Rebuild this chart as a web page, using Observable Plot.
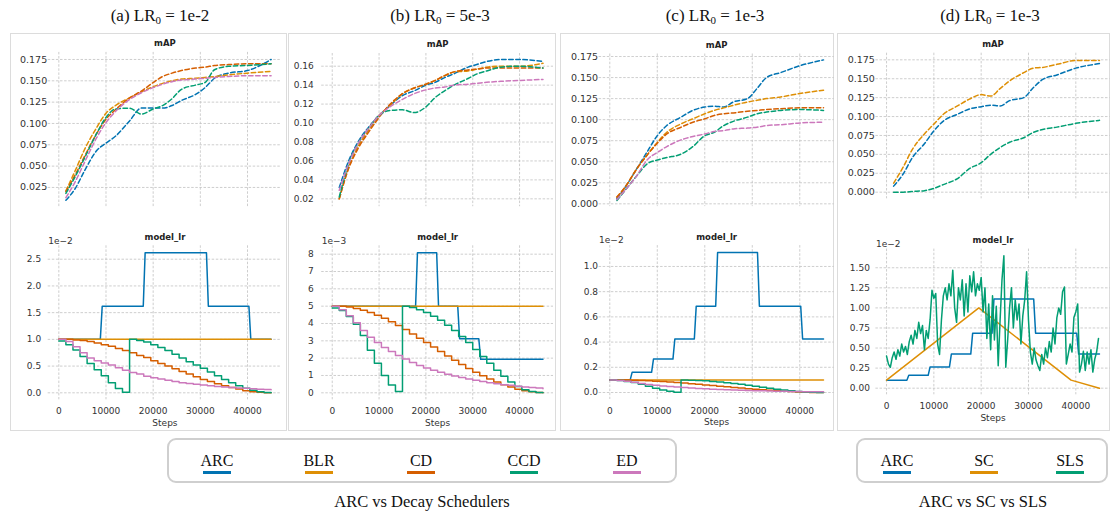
<!DOCTYPE html>
<html><head><meta charset="utf-8">
<script src="https://cdn.jsdelivr.net/npm/d3@7"></script>
<script src="https://cdn.jsdelivr.net/npm/@observablehq/plot@0.6"></script>
<style>
body{margin:0;background:#fff;}
#root{position:relative;width:1117px;height:516px;overflow:hidden;font-family:"Liberation Serif","Times New Roman",serif;color:#111;}
.box{position:absolute;box-sizing:border-box;border:1px solid #dcdcdc;}
.title{position:absolute;font-size:17px;line-height:17px;transform:translateX(-50%);white-space:nowrap;}
.title sub{font-size:11px;vertical-align:-3px;line-height:0;}
.legend{position:absolute;box-sizing:border-box;border:2px solid #cfcfcf;border-radius:9px;}
.item{position:absolute;transform:translateX(-50%);font-size:16px;line-height:16px;white-space:nowrap;}
.sw{position:absolute;height:3px;width:28px;transform:translateX(-50%);}
.cap{position:absolute;font-size:16.5px;line-height:16.5px;transform:translateX(-50%);white-space:nowrap;}
</style>
</head><body><div id="root"></div>
<script>
// ---------- data ----------
const xTicks = [0, 10000, 20000, 30000, 40000];
const stepsMAP = [1500, 3500, 5500, 8000, 10000, 12000, 15000, 17500, 20000, 22000, 24000, 26000, 29000, 31000, 33000, 36000, 40000, 45000];
const stepsLR = [0,1500,3000,4500,6000,7500,9000,10500,12000,13500,15000,16500,18000,19500,21000,22500,24000,25500,27000,28500,30000,31500,33000,34500,36000,37500,39000,40500,42000,43500,45000];
const blrSteps = [0, 45000];

// (a) LR0 = 1e-2
const mapA_ARC = [0.010,0.024,0.045,0.068,0.077,0.085,0.103,0.118,0.118,0.118,0.121,0.127,0.134,0.142,0.153,0.159,0.162,0.175];
const mapA_BLR = [0.021,0.045,0.070,0.095,0.112,0.121,0.130,0.137,0.143,0.147,0.150,0.152,0.153,0.154,0.155,0.157,0.159,0.161];
const mapA_CD  = [0.020,0.040,0.062,0.088,0.105,0.116,0.130,0.138,0.148,0.155,0.159,0.162,0.165,0.166,0.168,0.169,0.170,0.170];
const mapA_CCD = [0.018,0.038,0.060,0.088,0.107,0.117,0.118,0.111,0.117,0.121,0.129,0.140,0.145,0.148,0.163,0.167,0.168,0.170];
const mapA_ED  = [0.013,0.032,0.055,0.083,0.101,0.114,0.128,0.136,0.142,0.146,0.149,0.151,0.152,0.153,0.154,0.155,0.156,0.156];
const arcStepsA = [0,8800,9200,17900,18300,31300,31700,40300,40700,45000];
const lrA_ARC = [1.0,1.0,1.62,1.62,2.62,2.62,1.62,1.62,1.0,1.0];
const lrA_BLR = [1.0,1.0];
const lrA_CD  = [1.0,1.0,0.99,0.98,0.96,0.93,0.9,0.87,0.83,0.79,0.75,0.7,0.66,0.6,0.55,0.5,0.45,0.4,0.35,0.3,0.25,0.21,0.17,0.13,0.1,0.07,0.04,0.02,0.01,0.0,0.0];
const lrA_CCD = [0.97,0.9,0.8,0.68,0.55,0.43,0.32,0.19,0.08,0.01,1.0,0.98,0.95,0.9,0.85,0.79,0.72,0.65,0.58,0.52,0.46,0.39,0.32,0.25,0.19,0.13,0.085,0.05,0.02,0.005,0.0];
const lrA_ED  = [1.0,0.96,0.86,0.75,0.65,0.6,0.56,0.52,0.47,0.42,0.38,0.35,0.31,0.28,0.26,0.235,0.21,0.19,0.175,0.16,0.145,0.13,0.12,0.11,0.1,0.09,0.083,0.075,0.068,0.062,0.056];

// (b) LR0 = 5e-3
const mapB_ARC = [0.032,0.060,0.080,0.097,0.108,0.117,0.129,0.134,0.140,0.143,0.148,0.152,0.159,0.162,0.165,0.167,0.167,0.165];
const mapB_BLR = [0.020,0.053,0.075,0.094,0.108,0.117,0.131,0.137,0.141,0.145,0.150,0.154,0.155,0.157,0.159,0.160,0.160,0.163];
const mapB_CD  = [0.020,0.052,0.073,0.092,0.106,0.118,0.131,0.137,0.141,0.145,0.150,0.154,0.156,0.157,0.158,0.158,0.158,0.158];
const mapB_CCD = [0.022,0.057,0.078,0.096,0.108,0.113,0.114,0.111,0.117,0.127,0.134,0.140,0.147,0.152,0.155,0.159,0.160,0.158];
const mapB_ED  = [0.029,0.057,0.078,0.096,0.108,0.116,0.125,0.131,0.135,0.137,0.138,0.140,0.141,0.142,0.143,0.144,0.145,0.146];
const arcStepsB = [0,17800,18200,22300,22700,26800,27200,31300,31700,45000];
const lrB_ARC = [5,5,8.08,8.08,5,5,3.12,3.12,1.93,1.93];
const lrB_BLR = [5,5];
const lrB_CD  = [5.0,5.0,4.95,4.87,4.76,4.63,4.48,4.3,4.1,3.88,3.65,3.4,3.15,2.9,2.64,2.38,2.12,1.88,1.64,1.4,1.18,0.98,0.79,0.62,0.46,0.33,0.21,0.12,0.06,0.02,0.0];
const lrB_CCD = [4.9,4.75,4.4,3.95,3.3,2.45,1.7,1.0,0.45,0.08,5.0,4.92,4.8,4.63,4.42,4.18,3.9,3.6,3.25,2.9,2.5,2.1,1.7,1.3,0.95,0.62,0.36,0.18,0.08,0.02,0.0];
const lrB_ED  = [5.0,4.8,4.45,4.05,3.6,3.2,2.9,2.62,2.38,2.15,1.95,1.75,1.58,1.43,1.3,1.18,1.07,0.97,0.88,0.8,0.72,0.65,0.58,0.52,0.47,0.43,0.38,0.34,0.3,0.27,0.24];

// (c) LR0 = 1e-3
const mapC_ARC = [0.006,0.022,0.040,0.063,0.081,0.093,0.103,0.111,0.115,0.116,0.115,0.121,0.125,0.137,0.150,0.156,0.164,0.171];
const mapC_BLR = [0.008,0.022,0.040,0.059,0.073,0.085,0.095,0.101,0.107,0.111,0.114,0.117,0.121,0.123,0.125,0.127,0.131,0.135];
const mapC_CD  = [0.008,0.022,0.040,0.059,0.072,0.083,0.091,0.097,0.101,0.105,0.107,0.108,0.110,0.111,0.112,0.113,0.114,0.114];
const mapC_CCD = [0.004,0.018,0.032,0.048,0.052,0.055,0.059,0.068,0.081,0.085,0.093,0.098,0.103,0.107,0.109,0.111,0.112,0.111];
const mapC_ED  = [0.005,0.018,0.032,0.053,0.061,0.068,0.076,0.080,0.083,0.086,0.087,0.089,0.090,0.091,0.093,0.094,0.096,0.097];
const arcStepsC = [0,4300,4700,8800,9200,13300,13700,17800,18200,22300,22700,31100,31500,40200,40600,45000];
const lrC_ARC = [0.1,0.1,0.16,0.16,0.265,0.265,0.425,0.425,0.685,0.685,1.11,1.11,0.685,0.685,0.425,0.425];
const lrC_BLR = [0.1,0.1];
const lrC_CD  = [0.1,0.1,0.099,0.098,0.096,0.093,0.09,0.087,0.083,0.079,0.075,0.07,0.066,0.06,0.055,0.05,0.045,0.04,0.035,0.03,0.025,0.021,0.017,0.013,0.01,0.007,0.004,0.002,0.001,0.0,0.0];
const lrC_CCD = [0.1,0.095,0.088,0.079,0.066,0.05,0.034,0.02,0.009,0.002,0.1,0.098,0.096,0.093,0.088,0.084,0.078,0.072,0.065,0.058,0.05,0.042,0.034,0.026,0.019,0.013,0.007,0.004,0.002,0.0005,0.0];
const lrC_ED  = [0.1,0.096,0.089,0.081,0.072,0.064,0.058,0.052,0.048,0.043,0.039,0.035,0.032,0.029,0.026,0.024,0.021,0.019,0.018,0.016,0.014,0.013,0.012,0.01,0.0095,0.0086,0.0076,0.0068,0.006,0.0054,0.0048];

// (d) LR0 = 1e-3, ARC vs SC vs SLS
const mapD_ARC = [0.008,0.024,0.046,0.064,0.081,0.094,0.103,0.110,0.113,0.115,0.114,0.121,0.125,0.138,0.149,0.155,0.164,0.170];
const mapD_SC  = [0.012,0.033,0.057,0.077,0.090,0.103,0.114,0.123,0.129,0.127,0.137,0.147,0.158,0.164,0.165,0.169,0.174,0.174];
const mapD_SLS = [0.000,0.000,0.001,0.002,0.005,0.010,0.018,0.031,0.039,0.050,0.059,0.066,0.072,0.079,0.083,0.086,0.091,0.095];
const lrD_ARC = [0.1,0.1,0.16,0.16,0.265,0.265,0.425,0.425,0.685,0.685,1.11,1.11,0.685,0.685,0.425,0.425];
const scSteps = [0, 19500, 39000, 45000];
const lrD_SC = [0.1, 1.0, 0.1, 0.0];
const slsSteps = d3.range(0, 44801, 400);
const lrD_SLS = [0.40,0.30,0.26,0.38,0.45,0.36,0.48,0.40,0.55,0.45,0.52,0.42,0.58,0.66,0.55,0.72,0.62,0.82,0.68,0.78,
  0.48,0.72,0.62,0.85,1.22,1.12,1.18,0.55,0.42,0.85,1.15,1.25,1.10,1.30,1.15,1.47,1.00,0.82,1.25,1.10,
  1.35,0.90,1.30,0.95,1.40,1.20,1.45,1.15,1.30,1.22,1.38,0.95,1.25,0.62,1.05,0.48,1.15,0.60,1.02,0.28,
  0.85,1.35,1.65,0.26,0.60,1.00,1.25,0.75,1.10,0.85,1.05,0.55,0.90,1.10,1.45,
  0.85,0.45,0.30,0.50,0.35,0.28,0.22,0.42,0.30,0.50,0.38,0.58,0.45,0.75,0.55,0.88,1.00,0.92,1.20,1.26,
  0.30,0.42,0.55,0.45,0.88,0.95,1.05,0.20,0.30,0.46,0.22,0.45,0.30,0.48,0.20,0.36,0.45,0.62];

// tick labels
const mapTicksA = [0.025,0.05,0.075,0.1,0.125,0.15,0.175];
const mapTicksB = [0.02,0.04,0.06,0.08,0.10,0.12,0.14,0.16];
const mapTicksC = [0,0.025,0.05,0.075,0.1,0.125,0.15,0.175];
const lrTicksA = [0,0.5,1.0,1.5,2.0,2.5];
const lrTicksB = [0,1,2,3,4,5,6,7,8];
const lrTicksC = [0,0.2,0.4,0.6,0.8,1.0];
const lrTicksD = [0,0.25,0.5,0.75,1.0,1.25,1.5];

const C = {ARC:"#0173b2", BLR:"#de8f05", CD:"#d55e00", CCD:"#029e73", ED:"#cc78bc", SC:"#de8f05", SLS:"#029e73"};

// ---------- drawing ----------
const root = document.getElementById("root");
const grid = {stroke:"#c2c2c2", strokeOpacity:1, strokeWidth:0.8, strokeDasharray:"2.5,1.6"};

function subplot(cfg){
  const marks = [
    Plot.gridX(xTicks, grid),
    Plot.gridY(cfg.yTicks, grid),
    Plot.axisY(cfg.yTicks, {tickSize:0, tickPadding:cfg.yPad, tickFormat:d3.format(cfg.yFmt), color:"#333", label:null, fontSize:cfg.tickFont||9})
  ];
  if (cfg.showX) marks.push(Plot.axisX(xTicks, {tickSize:0, tickPadding:8, tickFormat:d3.format("d"), color:"#333", label:null, fontSize:9}));
  for (const s of cfg.lines) {
    marks.push(Plot.line(s.y, {x:s.x, y:s.y, stroke:s.color, strokeWidth:1.5, curve:s.curve, strokeDasharray:s.dash}));
  }
  marks.push(Plot.text([cfg.title], {frameAnchor:"top", dy:cfg.titleDy, text:d=>d, fontWeight:"bold", fontSize:8.5, lineAnchor:"middle", fill:"#222"}));
  if (cfg.offset) marks.push(Plot.text([cfg.offset], {frameAnchor:"top-left", textAnchor:"start", dy:-5, text:d=>d, fontSize:9, lineAnchor:"middle", fill:"#333"}));
  if (cfg.showX) marks.push(Plot.text(["Steps"], {frameAnchor:"bottom", dy:23, text:d=>d, fontSize:9, lineAnchor:"middle", fill:"#333"}));
  const svg = Plot.plot({
    width: cfg.width, height: cfg.height,
    marginLeft: cfg.fL - cfg.left, marginRight: cfg.left + cfg.width - cfg.fR,
    marginTop: cfg.fT - cfg.top, marginBottom: cfg.top + cfg.height - cfg.fB,
    x: {domain:[-2250, 47250], axis:null},
    y: {domain: cfg.yDomain, axis:null},
    style: {background:"transparent", fontFamily:"DejaVu Sans", fontSize:"9px", overflow:"visible"},
    marks
  });
  svg.style.position = "absolute";
  svg.style.left = cfg.left + "px";
  svg.style.top = cfg.top + "px";
  svg.style.maxWidth = "none";
  root.append(svg);
}

function el(cls, html, style){
  const d = document.createElement("div");
  d.className = cls; d.innerHTML = html || "";
  Object.assign(d.style, style);
  root.append(d); return d;
}

const dashed = "4.5,2.6";
const mono = "monotone-x";
const panels = [
  {box:[10,277], fL:47.7, fR:281.2, title:"(a) LR<sub>0</sub> = 1e-2", tx:160,
   map:{fT:51.9, fB:207.0, yDomain:[0.0015,0.1833], yTicks:mapTicksA, yFmt:".3f", yPad:1, tickFont:9.5,
        lines:[[mapA_ARC,C.ARC],[mapA_BLR,C.BLR],[mapA_CD,C.CD],[mapA_CCD,C.CCD],[mapA_ED,C.ED]]},
   lr:{fT:245.3, fB:399.3, yDomain:[-0.131,2.751], yTicks:lrTicksA, yFmt:".1f", yPad:7, offset:"1e\u22122",
       lines:[[arcStepsA,lrA_ARC,C.ARC,"linear"],[blrSteps,lrA_BLR,C.BLR,"linear"],[stepsLR,lrA_CD,C.CD,"step-after"],[stepsLR,lrA_CCD,C.CCD,"step-after"],[stepsLR,lrA_ED,C.ED,"step-after"]]}},
  {box:[288,268], fL:321.2, fR:553.0, title:"(b) LR<sub>0</sub> = 5e-3", tx:440,
   map:{fT:53.0, fB:206.2, yDomain:[0.0117,0.1734], yTicks:mapTicksB, yFmt:".2f", yPad:8,
        lines:[[mapB_ARC,C.ARC],[mapB_BLR,C.BLR],[mapB_CD,C.CD],[mapB_CCD,C.CCD],[mapB_ED,C.ED]]},
   lr:{fT:245.3, fB:399.3, yDomain:[-0.404,8.484], yTicks:lrTicksB, yFmt:"d", yPad:8, offset:"1e\u22123",
       lines:[[arcStepsB,lrB_ARC,C.ARC,"linear"],[blrSteps,lrB_BLR,C.BLR,"linear"],[stepsLR,lrB_CD,C.CD,"step-after"],[stepsLR,lrB_CCD,C.CCD,"step-after"],[stepsLR,lrB_ED,C.ED,"step-after"]]}},
  {box:[560,274], fL:598.6, fR:833.7, title:"(c) LR<sub>0</sub> = 1e-3", tx:715,
   map:{fT:53.5, fB:206.1, yDomain:[-0.0033,0.178], yTicks:mapTicksC, yFmt:".3f", yPad:1, tickFont:9.5,
        lines:[[mapC_ARC,C.ARC],[mapC_BLR,C.BLR],[mapC_CD,C.CD],[mapC_CCD,C.CCD],[mapC_ED,C.ED]]},
   lr:{fT:245.1, fB:399.0, yDomain:[-0.0555,1.1655], yTicks:lrTicksC, yFmt:".1f", yPad:1, offset:"1e\u22122",
       lines:[[arcStepsC,lrC_ARC,C.ARC,"linear"],[blrSteps,lrC_BLR,C.BLR,"linear"],[stepsLR,lrC_CD,C.CD,"step-after"],[stepsLR,lrC_CCD,C.CCD,"step-after"],[stepsLR,lrC_ED,C.ED,"step-after"]]}},
  {box:[837,273], fL:875.4, fR:1109.6, title:"(d) LR<sub>0</sub> = 1e-3", tx:990,
   map:{fT:52.7, fB:198.3, yDomain:[-0.00875,0.18375], yTicks:mapTicksC, yFmt:".3f", yPad:1, tickFont:9.5,
        lines:[[mapD_ARC,C.ARC],[mapD_SC,C.SC],[mapD_SLS,C.SLS]]},
   lr:{fT:248.6, fB:394.3, yDomain:[-0.0825,1.7325], yTicks:lrTicksD, yFmt:".2f", yPad:6, offset:"1e\u22122",
       lines:[[arcStepsC,lrD_ARC,C.ARC,"linear"],[scSteps,lrD_SC,C.SC,"linear"],[slsSteps,lrD_SLS,C.SLS,"linear"]]}}
];

for (const p of panels){
  const [bl, bw] = p.box;
  el("box", "", {left:bl+"px", top:"33px", width:bw+"px", height:"398px"});
  el("title", p.title, {left:p.tx+"px", top:"7px"});
  subplot({left:bl, top:33, width:bw, height:190, fL:p.fL, fR:p.fR, fT:p.map.fT, fB:p.map.fB,
    yDomain:p.map.yDomain, yTicks:p.map.yTicks, yFmt:p.map.yFmt, yPad:p.map.yPad, tickFont:p.map.tickFont,
    title:"mAP", titleDy:-9, showX:false,
    lines:p.map.lines.map(([v,c]) => ({x:stepsMAP, y:v, color:c, curve:mono, dash:dashed}))});
  subplot({left:bl, top:215, width:bw, height:215, fL:p.fL, fR:p.fR, fT:p.lr.fT, fB:p.lr.fB,
    yDomain:p.lr.yDomain, yTicks:p.lr.yTicks, yFmt:p.lr.yFmt, yPad:p.lr.yPad, offset:p.lr.offset,
    title:"model_lr", titleDy:-8.5, showX:true,
    lines:p.lr.lines.map(([s,v,c,cu]) => ({x:s, y:v, color:c, curve:cu}))});
}

// legends
el("legend", "", {left:"167px", top:"438px", width:"510px", height:"45px"});
el("legend", "", {left:"856px", top:"438px", width:"252px", height:"45px"});
const leg1 = [["ARC",217],["BLR",319],["CD",421],["CCD",524],["ED",627]];
const leg2 = [["ARC",897],["SC",984],["SLS",1070]];
for (const [n,x] of leg1.concat(leg2)){
  el("item", n, {left:x+"px", top:"453px"});
  el("sw", "", {left:x+"px", top:"471px", background:C[n]});
}
el("cap", "ARC vs Decay Schedulers", {left:"422px", top:"494px"});
el("cap", "ARC vs SC vs SLS", {left:"983px", top:"494px"});
</script>
</body></html>
